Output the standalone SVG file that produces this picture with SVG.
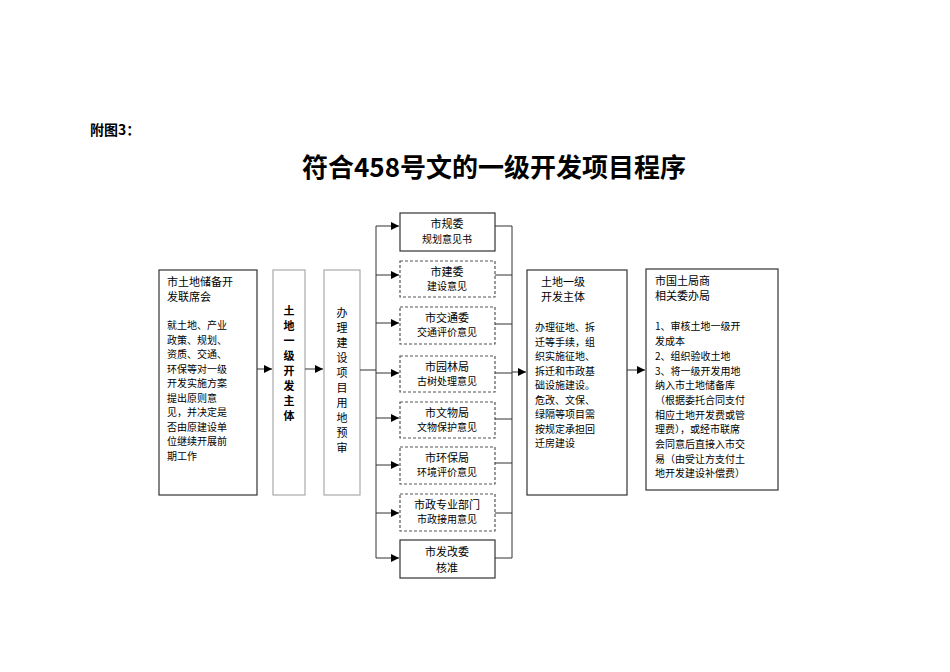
<svg xmlns="http://www.w3.org/2000/svg" width="950" height="672" viewBox="0 0 950 672">
<style>
text{font-family:"Noto Sans CJK SC","Liberation Serif",serif;fill:#000}
.b{fill:#fff;stroke:#333;stroke-width:1.2}
.d{fill:#fff;stroke:#555;stroke-width:1.2;stroke-dasharray:3,2}
.g{fill:#fff;stroke:#aaa;stroke-width:1.2}
.t{font-size:11px}
.s{font-size:10px}
.c{text-anchor:middle}
.l{stroke:#333;stroke-width:1;fill:none}
</style>
<defs><marker id="a" viewBox="0 0 10 10" refX="10" refY="5" markerWidth="8" markerHeight="8" markerUnits="userSpaceOnUse" orient="auto"><path d="M0,0L10,5L0,10z" fill="#000"/></marker></defs>
<rect width="950" height="672" fill="#fff"/>
<text x="90" y="135" font-size="14" font-weight="bold">附图3：</text>
<text x="494" y="177" font-size="26" font-weight="bold" class="c">符合458号文的一级开发项目程序</text>
<g id="n1"><rect class="b" x="159" y="270" width="98" height="225"/>
<text class="t" x="167" y="286">市土地储备开</text><text class="t" x="167" y="301">发联席会</text>
<text class="s"><tspan x="167" y="329">就土地、产业</tspan><tspan x="167" y="344">政策、规划、</tspan><tspan x="167" y="358">资质、交通、</tspan><tspan x="167" y="373">环保等对一级</tspan><tspan x="167" y="387">开发实施方案</tspan><tspan x="167" y="402">提出原则意</tspan><tspan x="167" y="416">见，并决定是</tspan><tspan x="167" y="431">否由原建设单</tspan><tspan x="167" y="445">位继续开展前</tspan><tspan x="167" y="460">期工作</tspan></text></g>
<g id="n2"><rect class="g" x="273" y="270" width="32" height="225"/>
<text class="t c" font-weight="bold"><tspan x="289" y="315">土</tspan><tspan x="289" y="330">地</tspan><tspan x="289" y="345">一</tspan><tspan x="289" y="360">级</tspan><tspan x="289" y="375">开</tspan><tspan x="289" y="390">发</tspan><tspan x="289" y="405">主</tspan><tspan x="289" y="420">体</tspan></text></g>
<g id="n3"><rect class="g" x="324" y="270" width="36" height="225"/>
<text class="t c"><tspan x="342" y="317">办</tspan><tspan x="342" y="332">理</tspan><tspan x="342" y="347">建</tspan><tspan x="342" y="362">设</tspan><tspan x="342" y="377">项</tspan><tspan x="342" y="392">目</tspan><tspan x="342" y="407">用</tspan><tspan x="342" y="422">地</tspan><tspan x="342" y="437">预</tspan><tspan x="342" y="452">审</tspan></text></g>
<g id="k1"><rect class="b" x="400" y="213" width="95" height="38"/><text class="t c" x="447" y="228">市规委</text><text class="s c" x="447" y="243">规划意见书</text></g>
<g id="k2"><rect class="d" x="400" y="261" width="95" height="36"/><text class="t c" x="447" y="276">市建委</text><text class="s c" x="447" y="290">建设意见</text></g>
<g id="k3"><rect class="d" x="400" y="307" width="95" height="37"/><text class="t c" x="447" y="322">市交通委</text><text class="s c" x="447" y="336">交通评价意见</text></g>
<g id="k4"><rect class="d" x="400" y="356" width="95" height="36"/><text class="t c" x="447" y="371">市园林局</text><text class="s c" x="447" y="385">古树处理意见</text></g>
<g id="k5"><rect class="d" x="400" y="402" width="95" height="36"/><text class="t c" x="447" y="417">市文物局</text><text class="s c" x="447" y="431">文物保护意见</text></g>
<g id="k6"><rect class="d" x="400" y="447" width="95" height="37"/><text class="t c" x="447" y="462">市环保局</text><text class="s c" x="447" y="476">环境评价意见</text></g>
<g id="k7"><rect class="d" x="400" y="494" width="95" height="37"/><text class="t c" x="447" y="509">市政专业部门</text><text class="s c" x="447" y="523">市政接用意见</text></g>
<g id="k8"><rect class="b" x="400" y="540" width="95" height="38"/><text class="t c" x="447" y="556">市发改委</text><text class="t c" x="447" y="572">核准</text></g>
<g id="n4"><rect class="b" x="527" y="270" width="100" height="225"/>
<text class="t" x="541" y="286">土地一级</text><text class="t" x="541" y="301">开发主体</text>
<text class="s"><tspan x="535" y="331">办理征地、拆</tspan><tspan x="535" y="346">迁等手续，组</tspan><tspan x="535" y="360">织实施征地、</tspan><tspan x="535" y="375">拆迁和市政基</tspan><tspan x="535" y="389">础设施建设。</tspan><tspan x="535" y="404">危改、文保、</tspan><tspan x="535" y="418">绿隔等项目需</tspan><tspan x="535" y="433">按规定承担回</tspan><tspan x="535" y="447">迁房建设</tspan></text></g>
<g id="n5"><rect class="b" x="646" y="269" width="132" height="221"/>
<text class="t" x="655" y="285">市国土局商</text><text class="t" x="655" y="300">相关委办局</text>
<text class="s"><tspan x="655" y="330">1、审核土地一级开</tspan><tspan x="655" y="345">发成本</tspan><tspan x="655" y="360">2、组织验收土地</tspan><tspan x="655" y="375">3、将一级开发用地</tspan><tspan x="655" y="389">纳入市土地储备库</tspan><tspan x="655" y="404">（根据委托合同支付</tspan><tspan x="655" y="419">相应土地开发费或管</tspan><tspan x="655" y="433">理费），或经市联席</tspan><tspan x="655" y="448">会同意后直接入市交</tspan><tspan x="655" y="463">易（由受让方支付土</tspan><tspan x="655" y="477">地开发建设补偿费）</tspan></text></g>
<g id="edges">
<path class="l" d="M257,369H272" marker-end="url(#a)"/>
<path class="l" d="M305,369H323" marker-end="url(#a)"/>
<path class="l" d="M360,370H376M376,226V558"/>
<path class="l" d="M376,226H399" marker-end="url(#a)"/>
<path class="l" d="M376,275H399" marker-end="url(#a)"/>
<path class="l" d="M376,323H399" marker-end="url(#a)"/>
<path class="l" d="M376,373H399" marker-end="url(#a)"/>
<path class="l" d="M376,418H399" marker-end="url(#a)"/>
<path class="l" d="M376,465H399" marker-end="url(#a)"/>
<path class="l" d="M376,513H399" marker-end="url(#a)"/>
<path class="l" d="M376,558H399" marker-end="url(#a)"/>
<path class="l" d="M495,226H512V558H495M495,275H512M495,324H512M495,373H512M495,419H512M495,463H512M495,513H512"/>
<path class="l" d="M512,372H526" marker-end="url(#a)"/>
<path class="l" d="M627,370H645" marker-end="url(#a)"/>
</g>
</svg>
